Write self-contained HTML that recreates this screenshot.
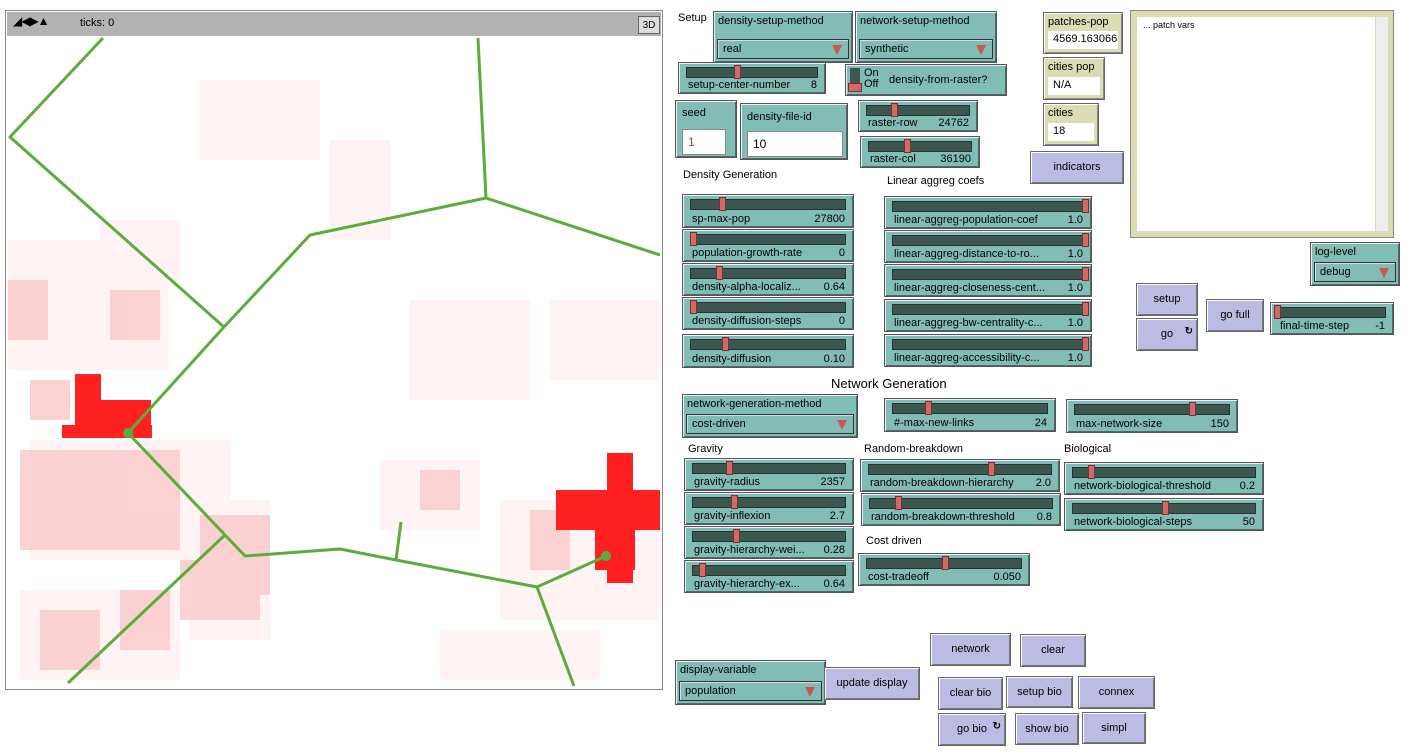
<!DOCTYPE html>
<html><head><meta charset="utf-8">
<style>
body{margin:0;width:1411px;height:755px;background:#fff;position:relative;overflow:hidden;font-family:"Liberation Sans",sans-serif;font-size:11px;color:#000}
.w{position:absolute;box-sizing:border-box}
.tl{background:#82bdb5;border:1px solid #555;box-shadow:inset 1px 1px 0 #eef,inset -1px -1px 0 #4a6b66}
.bt{background:#bcbbe4;border:1px solid #666;box-shadow:inset 1px 1px 0 #fff,inset -1px -1px 0 #777;text-align:center}
.mn{background:#dcdcb4;border:1px solid #666;box-shadow:inset 1px 1px 0 #fff,inset -1px -1px 0 #888}
.track{position:absolute;left:7px;right:7px;top:4px;height:9px;background:#3d5650;border:1px solid #243431}
.hd{position:absolute;top:2px;width:7px;height:14px;background:#d06a6a;border:1px solid #7a3030;box-sizing:border-box}
.sl{position:absolute;left:9px;right:8px;bottom:2px;line-height:12px;display:flex;justify-content:space-between;white-space:nowrap}
.lab{position:absolute;white-space:nowrap}
.chv{position:absolute;left:3px;right:3px;bottom:3px;height:20px;border:1px solid #333;box-shadow:inset 1px 1px 0 #cde;padding-left:5px;line-height:19px;box-sizing:border-box}
.tri{position:absolute;right:6px;top:5px;width:0;height:0;border-left:5px solid transparent;border-right:5px solid transparent;border-top:10px solid #c55}
.fld{position:absolute;background:#fff;border:1px solid #888;padding-left:5px;box-sizing:border-box}
.rf{position:absolute;right:4px;bottom:3px;font-size:10px;font-weight:bold}
</style></head><body>
<div class="w" style="left:5px;top:10px;width:658px;height:680px;border:1px solid #888;background:#fff"></div>
<div class="w" style="left:7px;top:12px;width:654px;height:24px;background:#b3b3b3"></div>
<div class="lab" style="left:13px;top:14px;font-size:12px;letter-spacing:-1px">&#9698;&#9664;&#9654;&#9650;</div>
<div class="lab" style="left:80px;top:17px">ticks: 0</div>
<div class="w" style="left:638px;top:16px;width:22px;height:18px;border:1px solid #666;background:#ddd;font-size:10px;text-align:center;line-height:17px">3D</div>
<svg class="w" style="left:8px;top:36px" width="652" height="651" viewBox="8 36 652 651">
<g fill="#ffdede" opacity="0.35">
<rect x="8" y="240" width="160" height="130"/><rect x="100" y="220" width="80" height="60"/>
<rect x="30" y="440" width="200" height="120"/><rect x="190" y="500" width="80" height="140"/>
<rect x="20" y="590" width="160" height="90"/><rect x="380" y="460" width="100" height="70"/>
<rect x="500" y="500" width="160" height="120"/><rect x="440" y="630" width="160" height="50"/>
<rect x="200" y="80" width="120" height="80"/><rect x="330" y="140" width="60" height="100"/>
<rect x="410" y="300" width="120" height="100"/><rect x="550" y="300" width="110" height="80"/>
</g>
<g fill="#fbc8c8" opacity="0.8">
<rect x="20" y="450" width="160" height="100"/><rect x="200" y="515" width="70" height="80"/>
<rect x="180" y="560" width="80" height="60"/><rect x="30" y="380" width="40" height="40"/>
<rect x="530" y="510" width="40" height="60"/><rect x="40" y="610" width="60" height="60"/>
<rect x="120" y="590" width="50" height="60"/><rect x="8" y="280" width="40" height="60"/>
<rect x="110" y="290" width="50" height="50"/><rect x="420" y="470" width="40" height="40"/>
</g>
<g fill="#ff2020">
<rect x="75" y="374" width="26" height="64"/><rect x="62" y="425" width="90" height="13"/>
<rect x="101" y="400" width="50" height="25"/><rect x="88" y="386" width="13" height="50"/>
<rect x="607" y="453" width="26" height="130"/><rect x="556" y="490" width="104" height="40"/>
<rect x="595" y="530" width="40" height="40"/>
</g>
<g fill="none" stroke="#5aad3c" stroke-width="3" stroke-linejoin="round">
<polyline points="103,38 10,137 224,327 310,235 486,198 660,255"/>
<polyline points="486,198 478,38"/>
<polyline points="224,327 128,433 245,556 340,549 396,560 537,587 606,556"/>
<polyline points="396,560 401,522"/>
<polyline points="537,587 574,686"/>
<polyline points="225,535 68,683"/>
</g>
<circle cx="128" cy="433" r="5" fill="#5aad3c"/><circle cx="606" cy="556" r="5" fill="#5aad3c"/>
</svg>
<div id="ui"></div>
<script>
var ui=document.getElementById('ui'),h='';
function sl(x,y,w,hh,hx,name,val){h+='<div class="w tl" style="left:'+x+'px;top:'+y+'px;width:'+w+'px;height:'+hh+'px"><div class="track"></div><div class="hd" style="left:'+(hx-x)+'px"></div><div class="sl"><span>'+name+'</span><span>'+val+'</span></div></div>';}
function ch(x,y,w,hh,name,val){h+='<div class="w tl" style="left:'+x+'px;top:'+y+'px;width:'+w+'px;height:'+hh+'px"><div class="lab" style="left:4px;top:3px">'+name+'</div><div class="chv">'+val+'<div class="tri"></div></div></div>';}
function bt(x,y,w,hh,t,f){h+='<div class="w bt" style="left:'+x+'px;top:'+y+'px;width:'+w+'px;height:'+hh+'px;line-height:'+(hh-2)+'px">'+t+(f?'<span class="rf">&#8635;</span>':'')+'</div>';}
function mn(x,y,w,hh,name,val){h+='<div class="w mn" style="left:'+x+'px;top:'+y+'px;width:'+w+'px;height:'+hh+'px"><div class="lab" style="left:4px;top:3px">'+name+'</div><div class="fld" style="left:4px;right:4px;bottom:4px;height:18px;line-height:17px;border:none;overflow:hidden">'+val+'</div></div>';}
function lb(x,y,t,s){h+='<div class="lab" style="left:'+x+'px;top:'+y+'px;'+(s||'')+'">'+t+'</div>';}
lb(678,12,'Setup');
ch(713,11,140,52,'density-setup-method','real');
ch(855,11,142,52,'network-setup-method','synthetic');
sl(678,62,148,32,733,'setup-center-number','8');
h+='<div class="w tl" style="left:845px;top:64px;width:162px;height:32px"><div class="w" style="left:4px;top:3px;width:10px;height:24px;background:#3d5650"></div><div class="w" style="left:2px;top:18px;width:14px;height:9px;background:#d06a6a;border:1px solid #7a3030"></div><div class="lab" style="left:18px;top:3px;line-height:11px">On<br>Off</div><div class="lab" style="left:43px;top:9px">density-from-raster?</div></div>';
h+='<div class="w tl" style="left:675px;top:100px;width:62px;height:58px"><div class="lab" style="left:6px;top:6px">seed</div><div class="fld" style="left:6px;top:28px;width:44px;height:26px;line-height:24px;color:#a44;font-size:12px">1</div></div>';
h+='<div class="w tl" style="left:740px;top:103px;width:108px;height:57px"><div class="lab" style="left:6px;top:7px">density-file-id</div><div class="fld" style="left:6px;top:27px;width:96px;height:26px;line-height:24px;font-size:12px">10</div></div>';
sl(858,100,120,32,890,'raster-row','24762');
sl(860,136,120,32,903,'raster-col','36190');
mn(1043,12,80,42,'patches-pop','4569.163066');
mn(1043,57,62,43,'cities pop','N/A');
mn(1043,103,56,43,'cities','18');
bt(1030,151,94,33,'indicators');
h+='<div class="w" style="left:1130px;top:10px;width:264px;height:228px;background:#dcdcb4;border:1px solid #888"><div class="w" style="left:6px;top:6px;width:238px;height:214px;background:#fff;font-size:9px;padding:3px 6px">... patch vars</div><div class="w" style="left:245px;top:6px;width:12px;height:214px;background:#eee"></div></div>';
lb(683,169,'Density Generation');lb(887,175,'Linear aggreg coefs');
sl(682,194,172,34,718,'sp-max-pop','27800');
sl(682,229,172,33,689,'population-growth-rate','0');
sl(682,263,172,33,715,'density-alpha-localiz...','0.64');
sl(682,297,172,33,689,'density-diffusion-steps','0');
sl(682,334,172,34,721,'density-diffusion','0.10');
var la=[['linear-aggreg-population-coef','1.0'],['linear-aggreg-distance-to-ro...','1.0'],['linear-aggreg-closeness-cent...','1.0'],['linear-aggreg-bw-centrality-c...','1.0'],['linear-aggreg-accessibility-c...','1.0']];
var ly=[196,230,264,299,334];
for(var i=0;i<5;i++)sl(884,ly[i],208,33,1081,la[i][0],la[i][1]);
ch(1310,242,90,44,'log-level','debug');
bt(1136,283,62,33,'setup');bt(1136,318,62,33,'go',1);bt(1206,299,58,33,'go full');
sl(1270,302,124,33,1273,'final-time-step','-1');
lb(831,376,'Network Generation','font-size:13px');
ch(682,394,176,44,'network-generation-method','cost-driven');
sl(884,398,172,34,924,'#-max-new-links','24');
sl(1066,399,172,34,1188,'max-network-size','150');
lb(688,443,'Gravity');lb(864,443,'Random-breakdown');lb(1064,443,'Biological');
sl(684,458,170,33,725,'gravity-radius','2357');
sl(684,492,170,33,730,'gravity-inflexion','2.7');
sl(684,526,170,33,732,'gravity-hierarchy-wei...','0.28');
sl(684,560,170,33,698,'gravity-hierarchy-ex...','0.64');
sl(860,459,200,33,987,'random-breakdown-hierarchy','2.0');
sl(861,493,200,33,894,'random-breakdown-threshold','0.8');
sl(1064,462,200,33,1087,'network-biological-threshold','0.2');
sl(1064,498,200,33,1161,'network-biological-steps','50');
lb(866,535,'Cost driven');
sl(858,553,172,33,941,'cost-tradeoff','0.050');
ch(675,660,151,45,'display-variable','population');
bt(824,667,96,33,'update display');
bt(930,633,81,33,'network');bt(1020,634,66,33,'clear');
bt(938,677,65,33,'clear bio');bt(1006,676,67,32,'setup bio');bt(1078,676,77,33,'connex');
bt(938,713,68,33,'go bio',1);bt(1015,713,64,32,'show bio');bt(1082,712,64,32,'simpl');
ui.innerHTML=h;
</script>
</body></html>
